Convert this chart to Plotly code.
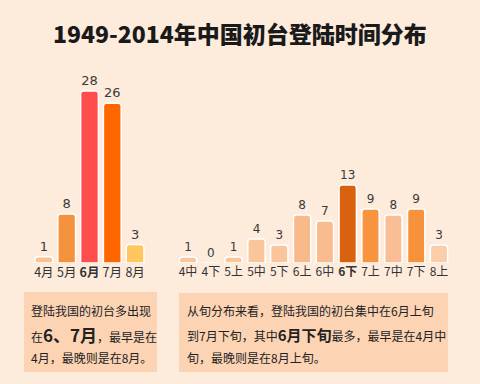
import plotly.graph_objects as go

W, H = 480, 384
def px(x): return x / W
def py(y): return 1 - y / H

# Data
month_labels = ["4月", "5月", "<b>6月</b>", "7月", "8月"]
month_values = [1, 8, 28, 26, 3]
month_colors = ["#F9C292", "#F5923E", "#FF4D4D", "#FF6600", "#FFC75E"]

dekad_labels = ["4中", "4下", "5上", "5中", "5下", "6上", "6中", "<b>6下</b>", "7上", "7中", "7下", "8上"]
dekad_values = [1, 0, 1, 4, 3, 8, 7, 13, 9, 8, 9, 3]
dekad_colors = ["#FAC59A", "#FAC59A", "#FAC59A", "#FAC59A", "#FAC59A", "#F9BA8B",
                "#F9BC8F", "#D9620F", "#F8933E", "#F9BE95", "#F8913C", "#FBCDA8"]

BG = "#FDEBDC"
BOX = "#FCD4B4"
CJK = "Noto Sans CJK SC"

fig = go.Figure()
fig.add_trace(go.Bar(
    x=list(range(len(month_labels))), y=month_values, xaxis="x", yaxis="y",
    marker=dict(color=month_colors, line=dict(color="white", width=1.5), cornerradius=3),
    text=[str(v) for v in month_values], textposition="outside", cliponaxis=False,
    textfont=dict(family="DejaVu Sans", size=13, color="#3a3a3a"),
    width=0.78, showlegend=False, hoverinfo="skip"))
fig.add_trace(go.Bar(
    x=list(range(len(dekad_labels))), y=dekad_values, xaxis="x2", yaxis="y2",
    marker=dict(color=dekad_colors, line=dict(color="white", width=1.5), cornerradius=3),
    text=[str(v) for v in dekad_values], textposition="outside", cliponaxis=False,
    textfont=dict(family="DejaVu Sans", size=12, color="#3a3a3a"),
    width=0.76, showlegend=False, hoverinfo="skip"))

base = 263
left_scale = 6.14
right_scale = 6.0
ymax = 30

fig.update_layout(
    width=W, height=H,
    margin=dict(l=0, r=0, t=0, b=0),
    paper_bgcolor=BG, plot_bgcolor="rgba(0,0,0,0)",
    font=dict(family=CJK, color="#333333"),
    xaxis=dict(domain=[px(32.5), px(146.5)], range=[-0.5, 4.5],
               tickmode="array", tickvals=list(range(5)), ticktext=month_labels,
               showgrid=False, zeroline=False, showline=False, ticks="",
               tickfont=dict(family=CJK, size=12.5, color="#333333"), anchor="y"),
    yaxis=dict(domain=[py(base), py(base - left_scale * ymax)], range=[0, ymax],
               visible=False, anchor="x"),
    xaxis2=dict(domain=[px(176.6), px(450.4)], range=[-0.5, 11.5],
                tickmode="array", tickvals=list(range(12)), ticktext=dekad_labels,
                showgrid=False, zeroline=False, showline=False, ticks="",
                tickfont=dict(family=CJK, size=12, color="#333333"), anchor="y2"),
    yaxis2=dict(domain=[py(base), py(base - right_scale * ymax)], range=[0, ymax],
                visible=False, anchor="x2"),
)

shapes = [
    dict(type="rect", xref="paper", yref="paper", x0=px(24), x1=px(157), y0=py(372), y1=py(292),
         fillcolor=BOX, line=dict(width=0), layer="below"),
    dict(type="rect", xref="paper", yref="paper", x0=px(179), x1=px(448), y0=py(372), y1=py(293),
         fillcolor=BOX, line=dict(width=0), layer="below"),
]
fig.update_layout(shapes=shapes)

ann = []
ann.append(dict(text="1949-2014年中国初台登陆时间分布", x=px(240), y=py(33),
                xref="paper", yref="paper", showarrow=False, xanchor="center", yanchor="middle",
                font=dict(family=CJK, size=23, color="#1a1a1a", weight=900)))

left_lines = ["登陆我国的初台多出现",
              "在<b><span style='font-size:17px'>6、7月</span></b>，最早是在",
              "4月，最晚则是在8月。"]
right_lines = ["从旬分布来看，登陆我国的初台集中在6月上旬",
               "到7月下旬，其中<b><span style='font-size:15px'>6月下旬</span></b>最多，最早是在4月中",
               "旬，最晚则是在8月上旬。"]
ys = [310, 334, 357]
for t, y in zip(left_lines, ys):
    ann.append(dict(text=t, x=px(29), y=py(y), xref="paper", yref="paper", showarrow=False,
                    xanchor="left", yanchor="middle",
                    font=dict(family=CJK, size=12, color="#222222")))
for t, y in zip(right_lines, ys):
    ann.append(dict(text=t, x=px(185), y=py(y), xref="paper", yref="paper", showarrow=False,
                    xanchor="left", yanchor="middle",
                    font=dict(family=CJK, size=12, color="#222222")))
fig.update_layout(annotations=ann)

fig.write_html("out.html", config={"displayModeBar": False},
               post_script="document.body.style.margin='0';document.body.style.overflow='hidden';")
